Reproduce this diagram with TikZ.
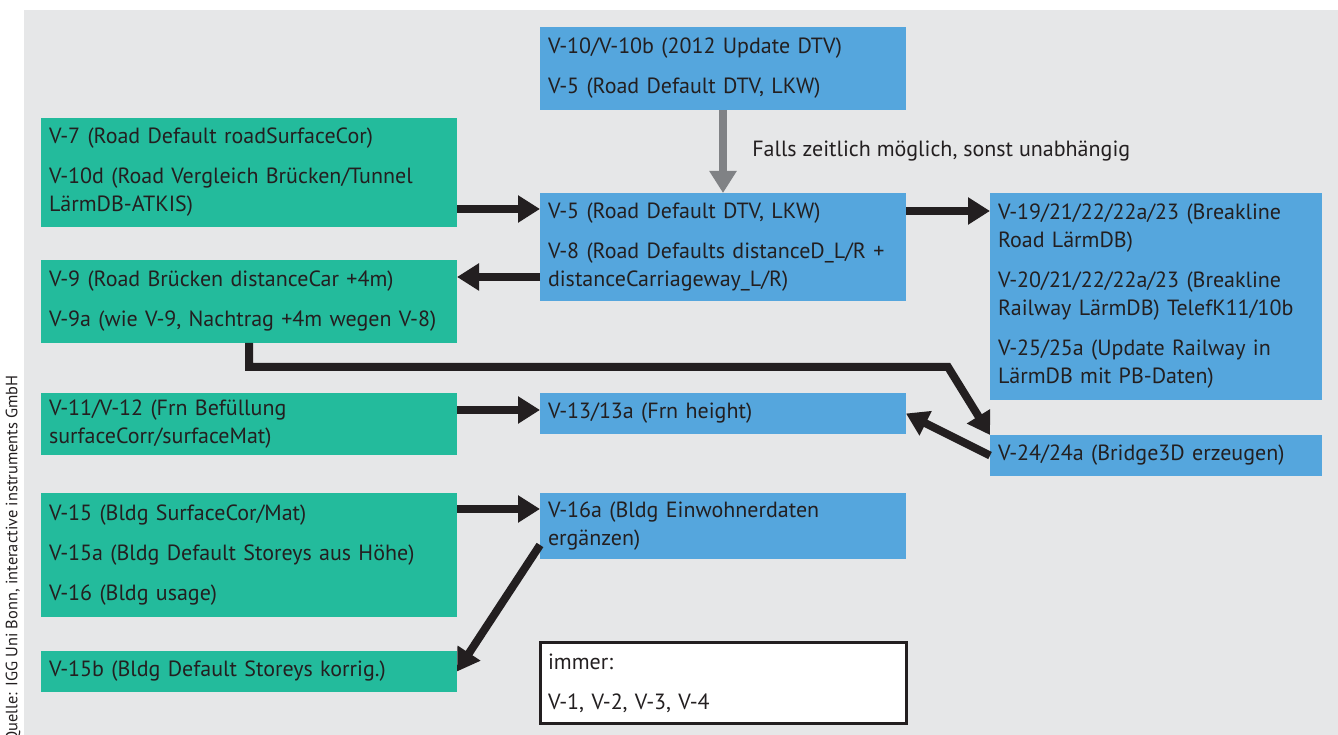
\documentclass[tikz,border=0pt]{standalone}
\usepackage{fontspec}
\setmainfont{PT Sans}
\usetikzlibrary{arrows.meta,positioning,calc}
\definecolor{bgray}{HTML}{E6E7E8}
\definecolor{vgreen}{HTML}{23BB9C}
\definecolor{vblue}{HTML}{55A6DD}
\definecolor{vtext}{HTML}{231F20}
\definecolor{vgrey}{HTML}{808285}

\begin{document}
\begin{tikzpicture}[x=1pt,y=1pt,
  box/.style={anchor=north west,align=left,inner xsep=8pt,inner ysep=0pt,outer sep=0pt,text=vtext,font=\fontsize{22}{28}\selectfont},
  grn/.style={box,fill=vgreen,text width=400pt},
  blu/.style={box,fill=vblue,text width=350pt},
  blr/.style={box,fill=vblue,text width=316pt},
  wht/.style={box,fill=white,draw=vtext,line width=3pt,text width=350pt},
  arr/.style={-{Triangle[length=22pt,width=26pt]},line width=8pt,draw=vtext},
  garr/.style={arr,draw=vgrey}
]
  \useasboundingbox (0,0) rectangle (1338,735);
  \fill[bgray] (24,0) rectangle (1338,725);
  \node[rotate=90,anchor=east,inner sep=0pt,text=vtext,font=\fontsize{16.4}{20}\selectfont] (src) at (13,360) {Quelle: IGG Uni Bonn, interactive instruments GmbH};

  % blue column
  \node[blu,minimum height=83pt]  (upd)   at (540,708) {V-10/V-10b (2012 Update DTV)\\[12pt]V-5 (Road Default DTV, LKW)};
  \node[blu,minimum height=108pt] (dtv)   at (540,542) {V-5 (Road Default DTV, LKW)\\[12pt]V-8 (Road Defaults distanceD\_L/R +\\distanceCarriageway\_L/R)};
  \node[blu,minimum height=41pt]  (frn)   at (540,342) {V-13/13a (Frn height)};
  \node[blu,minimum height=66pt]  (einw)  at (540,242) {V-16a (Bldg Einwohnerdaten\\ergänzen)};
  \node[wht,minimum height=81pt]  (immer) at (540,92)  {immer:\\[12pt]V-1, V-2, V-3, V-4};
  % right column
  \node[blr,minimum height=207pt] (brk)   at (990,542) {V-19/21/22/22a/23 (Breakline\\Road LärmDB)\\[12pt]V-20/21/22/22a/23 (Breakline\\Railway LärmDB) TelefK11/10b\\[12pt]V-25/25a (Update Railway in\\LärmDB mit PB-Daten)};
  \node[blr,minimum height=41pt]  (brdg)  at (990,300) {V-24/24a (Bridge3D erzeugen)};
  % green column
  \node[grn,minimum height=109pt] (surf)  at (41,617) {V-7 (Road Default roadSurfaceCor)\\[12pt]V-10d (Road Vergleich Brücken/Tunnel\\LärmDB-ATKIS)};
  \node[grn,minimum height=83pt]  (bruck) at (41,475) {V-9 (Road Brücken distanceCar +4m)\\[12pt]V-9a (wie V-9, Nachtrag +4m wegen V-8)};
  \node[grn,minimum height=62pt]  (fill)  at (41,342) {V-11/V-12 (Frn Befüllung\\surfaceCorr/surfaceMat)};
  \node[grn,minimum height=124pt] (bldg)  at (41,242) {V-15 (Bldg SurfaceCor/Mat)\\[12pt]V-15a (Bldg Default Storeys aus Höhe)\\[12pt]V-16 (Bldg usage)};
  \node[grn,minimum height=41pt]  (stor)  at (41,84)  {V-15b (Bldg Default Storeys korrig.)};

  \draw[garr] (upd.south) -- node[right=22pt,text=vtext,font=\fontsize{22}{28}\selectfont] (note) {Falls zeitlich möglich, sonst unabhängig} (dtv.north);
  \draw[arr] ([yshift=-91pt]surf.north east) coordinate (a1) -- (a1 -| dtv.west);
  \draw[arr] ([yshift=-84pt]dtv.north west) coordinate (a2) -- (a2 -| bruck.east);
  \draw[arr] ([yshift=-18pt]dtv.north east) coordinate (a3) -- (a3 -| brk.west);
  \draw[arr] ([yshift=-17pt]fill.north east) coordinate (a4) -- (a4 -| frn.west);
  \draw[arr] ([yshift=-16pt]bldg.north east) coordinate (a5) -- (a5 -| einw.west);
  \draw[arr] ([yshift=14pt]einw.south west) -- (stor.east);
  \coordinate (bend) at (948,368);
  \draw[arr] ([xshift=208pt]bruck.south west) |- (bend) -- (brdg.north west);
  \draw[arr] (brdg.west) -- (frn.east);
\end{tikzpicture}
\end{document}
